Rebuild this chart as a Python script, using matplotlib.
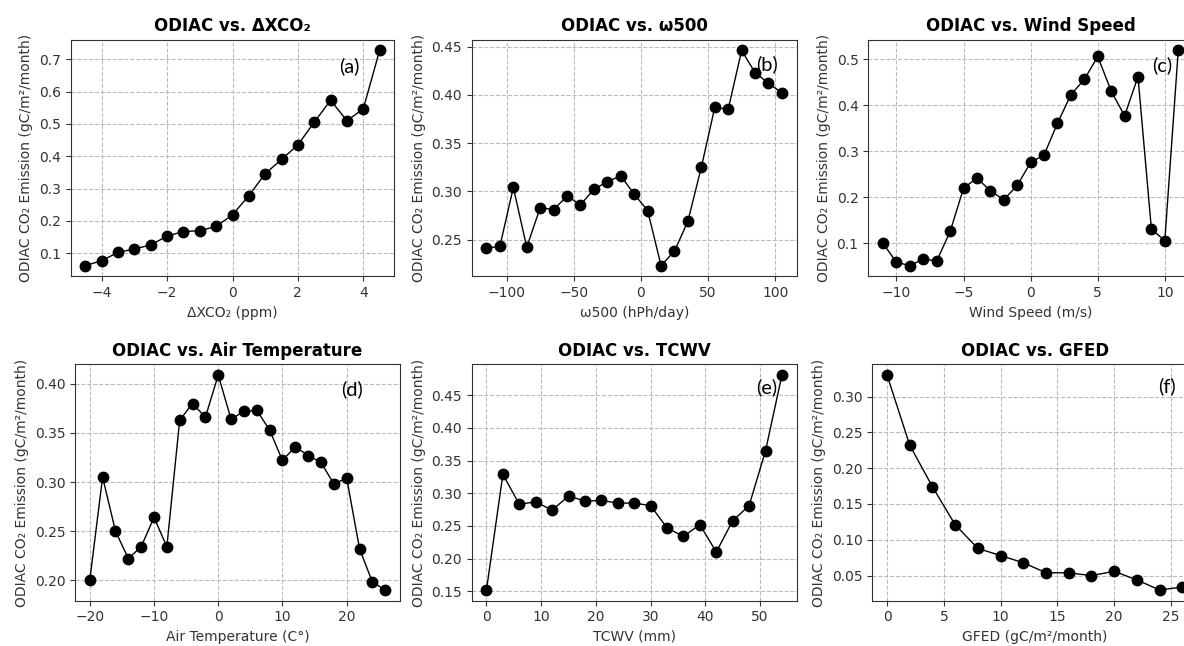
import matplotlib.pyplot as plt

# ---- data ----
dxco2 = [-4.5, -4.0, -3.5, -3.0, -2.5, -2.0, -1.5, -1.0, -0.5, 0.0, 0.5, 1.0, 1.5, 2.0, 2.5, 3.0, 3.5, 4.0, 4.5]
odiac_dxco2 = [0.062, 0.077, 0.103, 0.113, 0.126, 0.153, 0.167, 0.170, 0.183, 0.219, 0.278, 0.346,
               0.390, 0.435, 0.505, 0.573, 0.510, 0.546, 0.727]

w500 = [-115, -105, -95, -85, -75, -65, -55, -45, -35, -25, -15, -5, 5, 15, 25, 35, 45, 55, 65, 75, 85, 95, 105]
odiac_w500 = [0.241, 0.243, 0.304, 0.242, 0.283, 0.281, 0.295, 0.286, 0.302, 0.310, 0.316, 0.297,
              0.280, 0.223, 0.238, 0.269, 0.325, 0.387, 0.385, 0.446, 0.423, 0.412, 0.402]

wind = [-11, -10, -9, -8, -7, -6, -5, -4, -3, -2, -1, 0, 1, 2, 3, 4, 5, 6, 7, 8, 9, 10, 11]
odiac_wind = [0.100, 0.059, 0.052, 0.066, 0.062, 0.126, 0.220, 0.242, 0.214, 0.195, 0.226, 0.276,
              0.292, 0.361, 0.423, 0.456, 0.506, 0.431, 0.377, 0.462, 0.131, 0.106, 0.519]

air_temp = [-20, -18, -16, -14, -12, -10, -8, -6, -4, -2, 0, 2, 4, 6, 8, 10, 12, 14, 16, 18, 20, 22, 24, 26]
odiac_temp = [0.200, 0.305, 0.250, 0.222, 0.234, 0.264, 0.234, 0.363, 0.380, 0.366, 0.409, 0.364,
              0.372, 0.373, 0.353, 0.322, 0.336, 0.327, 0.320, 0.298, 0.304, 0.232, 0.198, 0.190]

tcwv = [0, 3, 6, 9, 12, 15, 18, 21, 24, 27, 30, 33, 36, 39, 42, 45, 48, 51, 54]
odiac_tcwv = [0.152, 0.329, 0.283, 0.287, 0.274, 0.296, 0.288, 0.289, 0.285, 0.285, 0.281, 0.247,
              0.234, 0.252, 0.210, 0.258, 0.281, 0.365, 0.481]

gfed = [0, 2, 4, 6, 8, 10, 12, 14, 16, 18, 20, 22, 24, 26]
odiac_gfed = [0.330, 0.232, 0.174, 0.121, 0.088, 0.078, 0.068, 0.054, 0.054, 0.050, 0.056, 0.044, 0.030, 0.034]

titles = ['ODIAC vs. ΔXCO₂', 'ODIAC vs. ω500', 'ODIAC vs. Wind Speed',
          'ODIAC vs. Air Temperature', 'ODIAC vs. TCWV', 'ODIAC vs. GFED']
xlabels = ['ΔXCO₂ (ppm)', 'ω500 (hPh/day)', 'Wind Speed (m/s)',
           'Air Temperature (C°)', 'TCWV (mm)', 'GFED (gC/m²/month)']
ylabel = 'ODIAC CO₂ Emission (gC/m²/month)'
tags = ['(a)', '(b)', '(c)', '(d)', '(e)', '(f)']

xs = [dxco2, w500, wind, air_temp, tcwv, gfed]
ys = [odiac_dxco2, odiac_w500, odiac_wind, odiac_temp, odiac_tcwv, odiac_gfed]

W, H = 1184, 646
fig = plt.figure(figsize=(W / 100, H / 100), dpi=100)

# axes boxes in pixels: (left, top, right, bottom); right column is cut off by the figure edge
boxes = [(70.7, 39.7, 394.3, 276.3), (471.7, 39.7, 796.7, 276.3), (868.3, 39.7, 1193, 276.3),
         (75, 364.3, 400, 600.7), (471.7, 364.3, 796.7, 600.7), (872.3, 364.3, 1197, 600.7)]
tag_pos = [(349, 66), (767, 64), (1162, 65), (352, 389), (767, 387), (1167, 386)]

for i in range(6):
    l, t, r, b = boxes[i]
    ax = fig.add_axes([l / W, 1 - b / H, (r - l) / W, (b - t) / H])
    ax.plot(xs[i], ys[i], marker='o', color='black', linewidth=1, markersize=7.5)
    ax.set_title(titles[i], fontsize=12, fontweight='bold')
    ax.set_xlabel(xlabels[i], fontsize=10, color='#333333')
    ax.set_ylabel(ylabel, fontsize=10, color='#333333')
    ax.tick_params(labelsize=10, colors='#333333')
    ax.grid(True, linestyle='--', color='#bbbbbb', linewidth=0.8)
    for s in ax.spines.values():
        s.set_color('#333333')
    tx, ty = tag_pos[i]
    fig.text(tx / W, 1 - ty / H, tags[i], fontsize=14.5, family='Lato',
             ha='center', va='center')

fig.savefig('out.png', dpi=100)
